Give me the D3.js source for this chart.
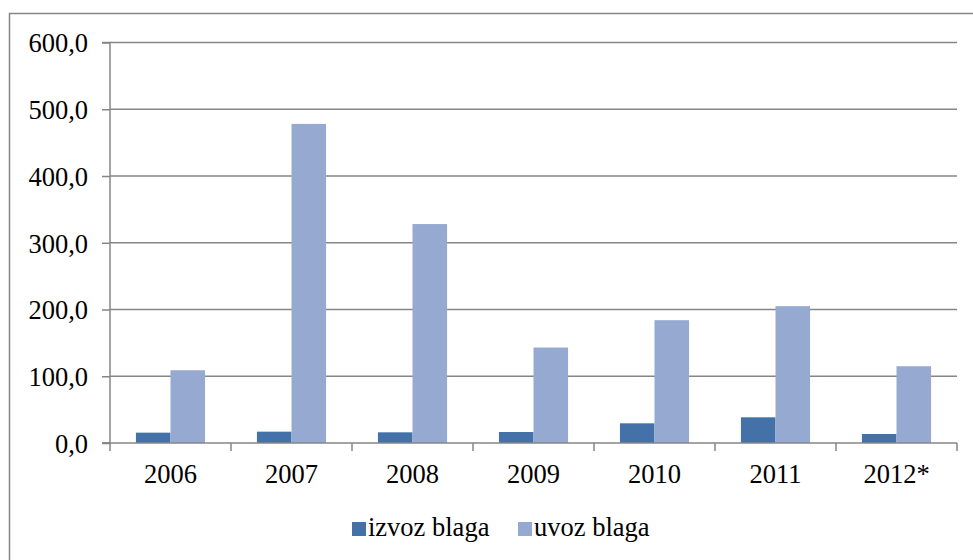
<!DOCTYPE html>
<html>
<head>
<meta charset="utf-8">
<script src="https://cdn.jsdelivr.net/npm/d3@7"></script>
<style>
  body { margin: 0; background: #fff; }
  svg text { font-family: "Times New Roman", "Liberation Serif", Tinos, "DejaVu Serif", serif; fill: #000; }
</style>
</head>
<body>
<script>
// data
const years = ["2006", "2007", "2008", "2009", "2010", "2011", "2012*"];
const izvoz = [15.5, 17, 16, 16.5, 29.5, 38.5, 13.5];
const uvoz = [109, 478, 328, 143, 184, 205, 115];
const yTicks = [0, 100, 200, 300, 400, 500, 600];
const seriesNames = ["izvoz blaga", "uvoz blaga"];
const colors = ["#4472a8", "#95a9d1"];

const W = 973, H = 560;
const FONT = '"Times New Roman", "Liberation Serif", Tinos, "DejaVu Serif", serif';
const svg = d3.select("body").append("svg").attr("width", W).attr("height", H);

// outer frame (runs off the right and bottom edge in the original)
svg.append("rect").attr("x", 9.5).attr("y", 13.5).attr("width", 980).attr("height", 570)
  .attr("fill", "none").attr("stroke", "#868686").attr("stroke-width", 1.5);

const x0 = 110, x1 = 957, yTop = 42.5, yBot = 443;
const x = d3.scaleBand().domain(years).range([x0, x1]).paddingInner(0).paddingOuter(0);
const y = d3.scaleLinear().domain([0, 600]).range([yBot, yTop]);

// gridlines
svg.append("g").selectAll("line").data(yTicks.filter(d => d > 0)).enter().append("line")
  .attr("x1", x0).attr("x2", x1).attr("y1", d => y(d)).attr("y2", d => y(d))
  .attr("stroke", "#868686").attr("stroke-width", 1.5);

// bars
const groupW = x.bandwidth() / 1.75;
const xs = d3.scaleBand().domain([0, 1]).range([0, groupW]);
const series = [izvoz, uvoz];
series.forEach((vals, si) => {
  svg.append("g").selectAll("rect").data(vals).enter().append("rect")
    .attr("x", (d, i) => x(years[i]) + (x.bandwidth() - groupW) / 2 + xs(si))
    .attr("y", d => y(d))
    .attr("width", xs.bandwidth())
    .attr("height", d => yBot - y(d))
    .attr("fill", colors[si]);
});

// y axis
const yAxis = d3.axisLeft(y).tickValues(yTicks).tickSize(8)
  .tickFormat(d => d3.format(".1f")(d).replace(".", ","));
const gy = svg.append("g").attr("transform", `translate(${x0},0)`).call(yAxis)
  .attr("font-family", FONT);
gy.select(".domain").attr("stroke", "#868686").attr("stroke-width", 1.5).attr("d", `M-8,${yTop}H0V${yBot}H-8`);
gy.selectAll(".tick line").attr("stroke", "#868686").attr("stroke-width", 1.5);
gy.selectAll(".tick text").attr("x", -22).attr("dy", "0.35em").style("font-size", "26.5px")
  .style("font-family", FONT).attr("fill", "#000");

// x axis
const xAxis = d3.axisBottom(x).tickSize(0).tickPadding(21);
const gx = svg.append("g").attr("transform", `translate(0,${yBot})`).call(xAxis)
  .attr("font-family", FONT);
gx.select(".domain").attr("stroke", "#868686").attr("stroke-width", 1.5).attr("d", `M${x0 - 8},0H${x1}`);
gx.selectAll(".tick text").attr("dy", "0.71em").style("font-size", "26.5px")
  .style("font-family", FONT).attr("fill", "#000");
svg.append("g").selectAll("line").data(years.map(d => x(d)).concat([x1])).enter().append("line")
  .attr("x1", d => d).attr("x2", d => d).attr("y1", yBot).attr("y2", yBot + 8)
  .attr("stroke", "#868686").attr("stroke-width", 1.5);

// legend
const legendX = [352, 518];
const leg = svg.append("g").selectAll("g").data(seriesNames).enter().append("g")
  .attr("transform", (d, i) => `translate(${legendX[i]},522)`);
leg.append("rect").attr("width", 14).attr("height", 14).attr("fill", (d, i) => colors[i]);
leg.append("text").attr("x", 16).attr("y", 14).style("font-size", "26.5px")
  .style("font-family", FONT).text(d => d);
</script>
</body>
</html>
